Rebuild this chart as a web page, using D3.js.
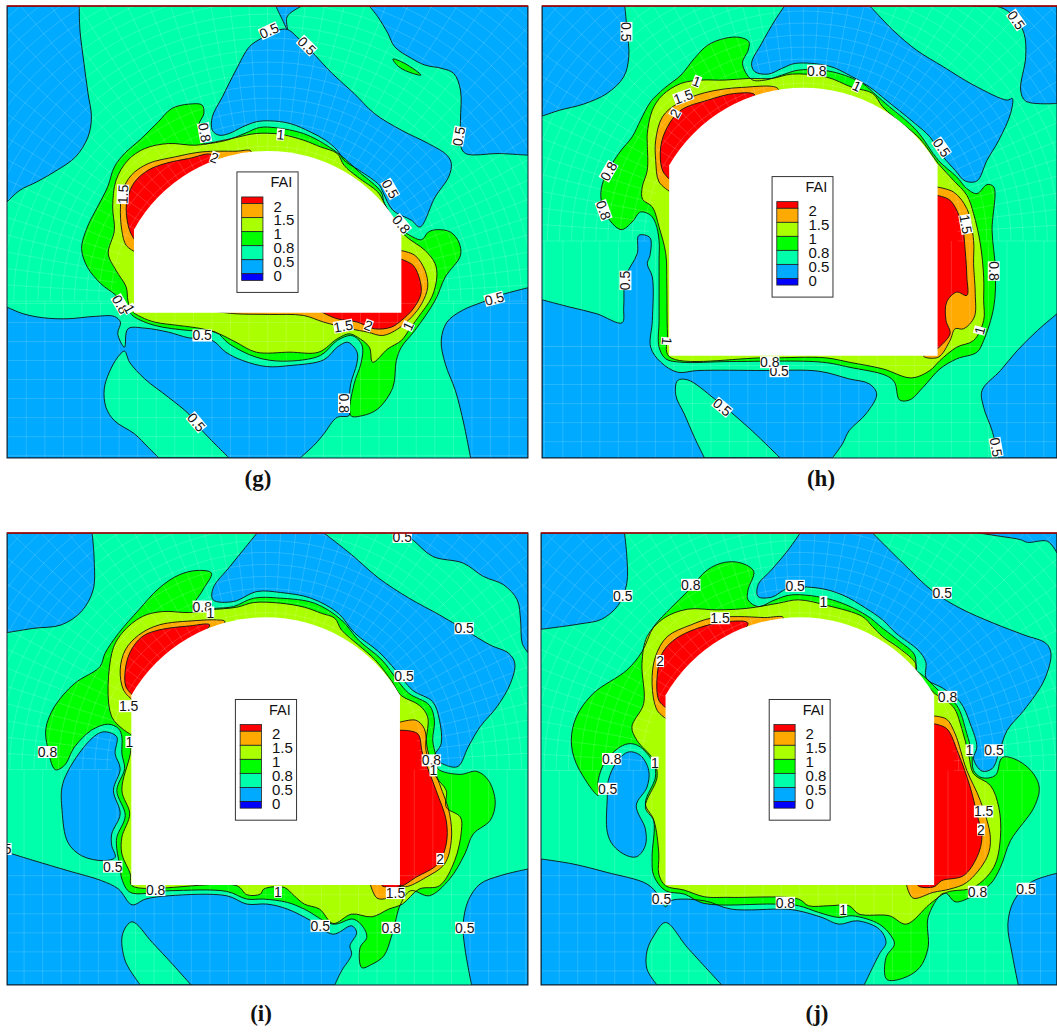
<!DOCTYPE html>
<html>
<head>
<meta charset="utf-8">
<script src="https://cdn.jsdelivr.net/npm/d3@7"></script>
<style>
body { margin: 0; background: #fff; }
text { font-family: "Liberation Sans", Arial, sans-serif; fill: #111; }
</style>
</head>
<body>
<svg id="chart" width="1057" height="1033"></svg>
<script>
// level colours, lowest to highest
const levelLabels = ["2", "1.5", "1", "0.8", "0.5", "0"];
const legendColors = ["#ff0000", "#ffaa00", "#aaff00", "#00ff00", "#00ffaa", "#00aaff", "#0000ff"];
const BLUE = "#00aaff", MINT = "#00ffaa", GREEN = "#00ff00", LIME = "#aaff00", ORANGE = "#ffaa00", RED = "#ff0000";

// contour outlines, in field units

// ---- (g)
const gBlueTL = [[22,18],[236,18],[238,90],[250,190],[262,280],[272,350],[262,410],[225,470],[170,510],[110,545],[60,570],[22,605]];
const gBlueTop = [[818,18],[895,18],[860,40],[850,55],[852,88],[838,60]];
const gBlueCentre = [[852,88],[880,110],[920,150],[985,220],[1050,280],[1110,340],[1190,390],[1270,430],[1325,465],[1338,490],[1330,530],[1290,590],[1245,680],[1220,660],[1165,630],[1135,575],[1125,555],[1065,510],[1020,480],[1000,450],[965,420],[920,395],[860,370],[800,362],[760,365],[720,380],[680,400],[650,405],[630,390],[630,350],[660,290],[700,210],[740,140],[775,115],[820,92]];
const gBlueTR = [[1095,18],[1565,18],[1565,465],[1480,460],[1380,460],[1365,435],[1365,360],[1365,270],[1345,220],[1310,205],[1260,195],[1220,175],[1170,140],[1150,100],[1120,50]];
const gBlueLow = [[22,920],[70,940],[130,952],[200,955],[280,948],[340,948],[358,965],[350,1000],[370,1040],[380,985],[430,983],[500,995],[560,1012],[630,1020],[670,1055],[720,1080],[790,1098],[860,1095],[960,1078],[1000,1040],[1030,1025],[1050,1040],[1060,1060],[1058,1090],[1040,1150],[1035,1210],[1035,1245],[1000,1250],[960,1300],[935,1330],[890,1372],[22,1372]];
const gIsland = [[370,1052],[385,1085],[430,1135],[500,1190],[560,1240],[600,1290],[680,1372],[472,1372],[440,1340],[400,1300],[340,1260],[315,1220],[310,1165],[325,1115],[350,1070]];
const gBlueBR = [[1565,862],[1480,885],[1430,905],[1370,930],[1325,965],[1308,1020],[1320,1090],[1350,1170],[1375,1270],[1395,1372],[1565,1372]];
const gSliver = [[1165,177],[1200,190],[1248,225],[1210,215],[1180,198]];
const gGreen = [[605,430],[590,375],[605,340],[600,315],[560,312],[510,325],[470,365],[420,415],[370,460],[340,500],[320,560],[290,620],[260,680],[243,745],[260,800],[300,850],[345,885],[380,925],[385,935],[400,950],[460,975],[560,990],[640,995],[680,1030],[760,1070],[840,1082],[950,1065],[1000,1020],[1040,1005],[1060,1015],[1075,1040],[1070,1090],[1050,1150],[1040,1245],[1075,1245],[1120,1225],[1165,1160],[1175,1080],[1190,1040],[1230,990],[1290,900],[1320,830],[1365,765],[1360,725],[1335,695],[1295,688],[1270,695],[1250,718],[1215,705],[1195,690],[1140,610],[1130,575],[1065,515],[1010,465],[960,430],[900,400],[820,383],[770,382],[730,398],[680,418],[620,430]];
const gLime = [[380,900],[375,860],[345,810],[322,760],[340,690],[335,620],[345,540],[380,480],[430,445],[500,430],[580,435],[640,425],[700,412],[760,400],[830,402],[900,420],[950,440],[1000,460],[1020,495],[1060,530],[1120,575],[1135,600],[1140,610],[1195,700],[1260,750],[1290,790],[1295,830],[1280,890],[1240,950],[1215,985],[1190,1020],[1150,1045],[1105,1085],[1095,1040],[1060,1010],[1035,1000],[1000,1015],[945,1055],[860,1055],[760,1055],[700,1025],[650,1000],[600,985],[530,975],[460,965],[420,950],[390,930]];
const gOrangeL = [[402,755],[375,735],[362,690],[358,620],[365,570],[390,525],[440,490],[520,470],[600,455],[700,453],[745,453],[500,700]];
const gRedL = [[402,722],[385,690],[375,630],[380,590],[400,545],[440,510],[490,490],[560,475],[630,465],[600,600]];
const gOrangeR = [[1186,750],[1230,765],[1260,810],[1268,860],[1250,910],[1220,950],[1180,985],[1135,1005],[1090,995],[1040,985],[960,965],[900,945],[800,942],[700,940],[640,933],[1186,930]];
const gRedR = [[1186,775],[1225,795],[1245,840],[1248,880],[1225,925],[1190,960],[1160,980],[1110,985],[1060,965],[1000,955],[950,933],[1186,930]];
const gTunnel = [398, 1190, 688, 452, 937];
const gLegend = [703, 515];
const gLabels = [["0.5",798,92,-25],["0.5",910,137,45],["0.5",1360,408,-80],["0.8",607,397,80],["1",832,403,5],["2",636,472,20],["1.5",365,582,-88],["0.5",1157,566,60],["0.8",1190,672,50],["0.5",1465,895,-15],["0.8",358,912,60],["1",385,925,60],["0.5",600,1005,0],["1.5",1018,977,-10],["2",1092,975,20],["1",1210,977,-65],["0.8",1020,1208,90],["0.5",583,1265,50]];

// ---- (h)
const hBlueTL = [[37,18],[283,18],[290,90],[295,170],[280,230],[230,280],[160,312],[90,330],[37,348]];
const hBlueCentre = [[758,18],[1012,18],[1080,90],[1150,150],[1230,200],[1320,255],[1420,300],[1435,295],[1430,340],[1395,420],[1360,480],[1330,542],[1295,542],[1265,510],[1230,470],[1190,410],[1140,365],[1060,300],[1010,260],[950,225],[890,198],[790,190],[750,205],[710,222],[670,215],[660,190],[690,130],[730,60]];
const hBlueTR = [[1320,18],[1400,22],[1440,50],[1470,100],[1475,170],[1460,270],[1475,303],[1568,310],[1568,18]];
const hBlueLow = [[37,898],[120,920],[200,940],[275,967],[280,920],[285,830],[320,760],[325,705],[358,712],[358,765],[350,790],[365,830],[365,960],[360,1040],[390,1085],[440,1115],[500,1110],[700,1110],[860,1112],[950,1135],[1010,1150],[1032,1180],[1000,1240],[950,1290],[930,1330],[900,1372],[37,1372]];
const hIsland = [[440,1140],[470,1138],[550,1195],[650,1280],[745,1372],[520,1372],[490,1310],[460,1240],[435,1185]];
const hBlueBR = [[1568,940],[1510,990],[1450,1050],[1400,1110],[1345,1170],[1350,1220],[1375,1290],[1395,1372],[1568,1372]];
const hGreen = [[660,238],[633,190],[650,150],[652,125],[625,112],[580,115],[530,135],[490,175],[450,225],[400,265],[360,305],[330,360],[305,410],[265,460],[220,540],[212,590],[225,640],[272,688],[305,665],[330,635],[360,645],[375,670],[385,720],[385,780],[385,850],[385,960],[385,1040],[405,1075],[450,1085],[600,1083],[870,1085],[950,1100],[1060,1125],[1085,1145],[1100,1198],[1130,1198],[1170,1160],[1220,1105],[1270,1075],[1330,1055],[1350,1020],[1380,920],[1385,810],[1375,690],[1380,560],[1360,553],[1330,580],[1300,565],[1270,530],[1215,480],[1150,390],[1070,320],[1030,285],[990,250],[900,215],[800,210],[750,225],[700,240]];
const hLime = [[336,597],[335,560],[350,510],[350,430],[350,400],[365,330],[395,285],[450,250],[510,240],[580,240],[650,235],[720,235],[780,222],[880,230],[960,262],[1020,280],[1050,320],[1100,365],[1160,415],[1215,490],[1260,540],[1300,585],[1320,640],[1340,730],[1350,830],[1350,900],[1350,960],[1320,1020],[1270,1040],[1220,1080],[1190,1110],[1135,1132],[1050,1105],[950,1085],[880,1072],[700,1072],[415,1068],[410,1000],[408,850],[405,760],[385,680],[365,620]];
const hOrangeL = [[419,575],[385,545],[375,480],[375,420],[395,350],[440,310],[520,278],[630,262],[740,268],[500,500]];
const hRedL = [[419,540],[395,510],[390,440],[410,380],[450,330],[530,300],[610,280],[670,285],[500,450]];
const hOrangeR = [[1209,560],[1260,575],[1300,625],[1320,720],[1320,790],[1325,880],[1322,950],[1290,985],[1265,985],[1250,1020],[1215,1070],[1172,1068],[1172,1060]];
const hRedR = [[1209,585],[1250,600],[1285,670],[1295,750],[1300,830],[1300,885],[1270,875],[1240,905],[1238,960],[1250,1000],[1209,1048]];
const hTunnel = [415, 1213, 495, 263, 1066];
const hLegend = [721, 529];
const hLabels = [["0.5",288,95,90],["0.5",1447,60,55],["0.8",854,212,0],["1",497,244,20],["1",973,258,25],["1.5",457,290,-20],["2",433,340,-60],["0.5",1225,442,55],["0.8",235,513,-60],["0.8",220,630,70],["1.5",1297,672,80],["0.8",1380,812,90],["0.5",285,840,-90],["1",408,1022,95],["1",1338,990,-75],["0.5",742,1112,0],["0.8",714,1085,0],["0.5",573,1220,40],["0.5",1387,1340,80]];

// ---- (i)
const iBlueTL = [[20,40],[272,40],[278,120],[275,210],[240,275],[180,315],[100,325],[20,338]];
const iBlueCentre = [[760,40],[958,40],[1040,105],[1120,175],[1210,235],[1300,285],[1375,330],[1450,375],[1505,400],[1523,430],[1510,490],[1470,560],[1420,620],[1385,680],[1355,738],[1320,735],[1285,710],[1305,670],[1300,600],[1280,545],[1220,510],[1170,450],[1120,395],[1050,340],[1000,280],[920,235],[830,218],[760,215],[690,245],[630,240],[630,205],[680,140],[720,90]];
const iBlueTR = [[1190,40],[1220,60],[1280,110],[1370,130],[1430,170],[1490,195],[1530,240],[1540,300],[1545,370],[1562,398],[1562,40]];
const iBlueLeft = [[315,635],[345,650],[340,700],[355,745],[335,810],[355,880],[330,940],[330,975],[340,1010],[305,1020],[240,1005],[200,965],[183,870],[185,790],[240,690],[290,640]];
const iBlueLow = [[20,995],[100,1020],[200,1050],[300,1080],[350,1105],[390,1152],[430,1135],[500,1125],[670,1125],[730,1150],[790,1150],[850,1165],[920,1200],[985,1240],[1040,1215],[1055,1235],[1035,1275],[1040,1300],[1010,1350],[990,1392],[20,1392]];
const iIsland = [[390,1203],[450,1265],[510,1330],[565,1392],[415,1392],[370,1320],[362,1240]];
const iBlueBR = [[1562,1045],[1480,1065],[1420,1090],[1385,1140],[1370,1210],[1375,1280],[1395,1392],[1562,1392]];
const iGreen = [[570,265],[600,210],[625,160],[585,152],[530,165],[470,205],[410,270],[350,340],[310,400],[295,440],[220,490],[160,560],[135,625],[140,680],[163,748],[190,735],[220,680],[270,630],[320,612],[350,625],[360,650],[360,700],[368,745],[345,810],[370,885],[345,950],[345,985],[355,1040],[360,1075],[385,1115],[500,1110],[670,1112],[730,1135],[780,1135],[850,1145],[900,1165],[985,1210],[1045,1195],[1075,1220],[1085,1250],[1065,1280],[1070,1340],[1100,1330],[1135,1305],[1160,1240],[1185,1150],[1215,1110],[1270,1125],[1330,1075],[1375,1000],[1400,940],[1450,900],[1465,845],[1445,780],[1410,753],[1360,762],[1295,745],[1290,710],[1280,660],[1285,600],[1270,555],[1210,520],[1175,480],[1130,420],[1060,360],[1010,300],[930,250],[830,235],[750,235],[690,260],[640,265]];
const iLime = [[330,590],[330,400],[360,340],[420,290],[480,275],[560,278],[620,270],[700,262],[750,248],[830,250],[900,262],[950,280],[990,295],[1010,330],[1060,375],[1110,420],[1160,485],[1185,525],[1240,555],[1265,590],[1260,690],[1290,770],[1320,810],[1320,860],[1362,890],[1365,930],[1345,1020],[1300,1095],[1240,1105],[1190,1150],[1150,1165],[1100,1188],[1040,1180],[985,1208],[945,1165],[900,1150],[870,1125],[840,1100],[780,1105],[770,1120],[730,1122],[700,1095],[390,1095],[385,1060],[360,1000],[360,950],[383,880],[360,810],[385,700],[390,645]];
const iOrangeL = [[392,540],[365,510],[355,450],[370,390],[410,345],[470,315],[580,302],[640,300],[665,305],[500,450]];
const iRedL = [[392,525],[372,500],[370,450],[385,395],[420,350],[470,330],[560,318],[620,315],[500,420]];
const iOrangeR = [[1179,607],[1230,600],[1255,625],[1265,690],[1300,790],[1330,880],[1335,960],[1315,1030],[1260,1070],[1200,1098],[1179,1090]];
const iOrangeB = [[1095,1090],[1115,1132],[1145,1132],[1183,1098],[1179,1088]];
const iRedR = [[1179,630],[1235,640],[1250,700],[1290,810],[1320,900],[1320,970],[1295,1030],[1230,1070],[1183,1098],[1130,1095],[1130,1088],[1179,1088]];
const iTunnel = [388, 1183, 525, 292, 1093];
const iLegend = [696, 538];
const iLabels = [["0.5",1190,52,0],["0.8",598,260,0],["1",622,278,0],["0.5",1373,325,0],["0.5",1195,468,0],["1.5",380,558,0],["1",382,665,0],["0.8",140,695,0],["0.8",1276,720,0],["1",1282,750,0],["0.5",5,985,0],["2",1302,1015,0],["0.5",333,1038,0],["0.8",460,1108,0],["1",822,1113,0],["1.5",1170,1117,0],["0.5",947,1215,0],["0.8",1157,1221,0],["0.5",1375,1221,0]];

// ---- (j)
const jBlueTL = [[35,40],[283,40],[290,110],[290,190],[265,255],[215,298],[150,312],[35,328]];
const jBlueCentre = [[805,40],[1020,40],[1110,130],[1200,215],[1280,265],[1380,310],[1470,345],[1535,370],[1550,400],[1530,480],[1470,570],[1420,630],[1395,700],[1375,745],[1345,752],[1320,715],[1330,680],[1310,610],[1280,545],[1230,505],[1180,475],[1178,425],[1155,390],[1090,340],[1050,300],[1000,265],[930,225],[860,205],[770,205],[720,232],[680,230],[680,195],[720,150],[770,90]];
const jBlueTR = [[1335,40],[1400,50],[1460,60],[1480,68],[1540,65],[1568,100],[1568,40]];
const jBlueLeft = [[295,695],[330,705],[355,750],[350,800],[318,855],[345,925],[345,975],[320,1008],[290,1005],[250,975],[232,935],[232,830],[235,780],[260,725]];
const jBlueLow = [[35,1015],[130,1030],[230,1055],[350,1090],[385,1125],[405,1158],[420,1140],[520,1140],[600,1165],[760,1165],[800,1170],[870,1190],[920,1210],[975,1200],[1040,1225],[1060,1265],[1040,1300],[995,1392],[35,1392]];
const jIsland = [[405,1205],[470,1280],[572,1392],[380,1392],[350,1345],[350,1290],[370,1245]];
const jBlueBR = [[1568,1058],[1490,1085],[1440,1140],[1422,1210],[1435,1300],[1453,1392],[1568,1392]];
const jGreen = [[680,260],[650,240],[650,210],[667,155],[630,130],[580,128],[530,150],[470,215],[420,265],[370,320],[335,395],[290,450],[190,520],[140,590],[125,660],[140,730],[205,825],[205,780],[225,725],[270,680],[300,670],[330,680],[370,730],[375,770],[345,850],[370,900],[365,1010],[370,1065],[405,1110],[460,1120],[520,1148],[730,1150],[800,1155],[860,1175],[920,1190],[960,1185],[1040,1210],[1075,1245],[1085,1270],[1060,1310],[1062,1375],[1110,1372],[1160,1340],[1185,1280],[1185,1190],[1225,1120],[1240,1118],[1265,1143],[1310,1130],[1370,1090],[1400,1040],[1430,960],[1500,860],[1515,800],[1490,750],[1440,715],[1405,712],[1385,765],[1345,772],[1320,750],[1315,700],[1300,640],[1270,555],[1215,510],[1180,475],[1148,450],[1145,405],[1095,360],[1050,325],[1000,285],[900,240],[780,225],[730,240]];
const jLime = [[305,620],[340,550],[335,430],[350,350],[400,295],[470,268],[560,270],[650,265],[740,250],[800,240],[890,258],[990,290],[1020,320],[1050,350],[1100,385],[1148,430],[1150,460],[1205,520],[1260,560],[1285,625],[1305,700],[1320,760],[1370,795],[1395,860],[1400,950],[1380,1040],[1320,1100],[1240,1115],[1190,1150],[1120,1210],[1070,1185],[980,1180],[950,1155],[890,1155],[830,1155],[800,1135],[600,1130],[520,1128],[460,1108],[405,1095],[385,1060],[385,1000],[370,900],[345,860],[380,770],[370,720],[320,660]];
const jOrangeL = [[409,597],[380,570],[365,490],[375,410],[410,350],[480,315],[540,295],[620,290],[700,293],[755,293],[500,500]];
const jRedL = [[409,565],[385,540],[380,470],[395,400],[430,360],[500,325],[590,305],[650,310],[500,450]];
const jOrangeR = [[1199,587],[1240,597],[1265,640],[1300,750],[1340,840],[1370,950],[1360,1010],[1300,1085],[1250,1105],[1200,1115],[1140,1132],[1120,1089],[1199,1089]];
const jRedR = [[1199,610],[1240,625],[1275,700],[1310,800],[1330,880],[1345,950],[1330,1010],[1290,1065],[1225,1080],[1203,1098],[1160,1098],[1150,1089],[1199,1089]];
const jTunnel = [405, 1203, 525, 292, 1093];
const jLegend = [713, 538];
const jLabels = [["0.5",278,228,0],["0.8",480,195,0],["0.5",790,198,0],["1",874,246,0],["0.5",1227,219,0],["1.5",567,295,0],["2",389,423,0],["0.8",1243,530,0],["1",1308,690,0],["0.5",1381,690,0],["0.8",245,716,0],["1",373,727,0],["0.5",233,805,0],["1.5",1350,873,0],["2",1342,927,0],["0.5",1476,1104,0],["0.8",1332,1113,0],["0.5",393,1134,0],["0.8",761,1146,0],["1",933,1167,0]];

const panels = [
  {tag: "(g)", dx: [22, 1565], dy: [18, 1372], rx: [7, 528], ry: [6, 458], capX: 258, capY: 486, tunnel: gTunnel, legend: gLegend, labels: gLabels,
   layers: [[BLUE,gBlueTL],[BLUE,gBlueTop],[BLUE,gBlueCentre],[BLUE,gBlueTR],[BLUE,gBlueLow],[MINT,gIsland],[BLUE,gBlueBR],[GREEN,gSliver],[GREEN,gGreen],[LIME,gLime],[ORANGE,gOrangeL],[RED,gRedL],[ORANGE,gOrangeR],[RED,gRedR]]},
  {tag: "(h)", dx: [37, 1568], dy: [18, 1372], rx: [542, 1057], ry: [6, 458], capX: 821, capY: 486, tunnel: hTunnel, legend: hLegend, labels: hLabels,
   layers: [[BLUE,hBlueTL],[BLUE,hBlueCentre],[BLUE,hBlueTR],[BLUE,hBlueLow],[MINT,hIsland],[BLUE,hBlueBR],[GREEN,hGreen],[LIME,hLime],[ORANGE,hOrangeL],[RED,hRedL],[ORANGE,hOrangeR],[RED,hRedR]]},
  {tag: "(i)", dx: [20, 1562], dy: [40, 1392], rx: [7, 528], ry: [533, 985], capX: 261, capY: 1021, tunnel: iTunnel, legend: iLegend, labels: iLabels,
   layers: [[BLUE,iBlueTL],[BLUE,iBlueCentre],[BLUE,iBlueTR],[BLUE,iBlueLeft],[BLUE,iBlueLow],[MINT,iIsland],[BLUE,iBlueBR],[GREEN,iGreen],[LIME,iLime],[ORANGE,iOrangeL],[RED,iRedL],[ORANGE,iOrangeR],[ORANGE,iOrangeB],[RED,iRedR]]},
  {tag: "(j)", dx: [35, 1568], dy: [40, 1392], rx: [541, 1057], ry: [533, 985], capX: 817, capY: 1021, tunnel: jTunnel, legend: jLegend, labels: jLabels,
   layers: [[BLUE,jBlueTL],[BLUE,jBlueCentre],[BLUE,jBlueTR],[BLUE,jBlueLeft],[BLUE,jBlueLow],[MINT,jIsland],[BLUE,jBlueBR],[GREEN,jGreen],[LIME,jLime],[ORANGE,jOrangeL],[RED,jRedL],[ORANGE,jOrangeR],[RED,jRedR]]}
];

// the mesh is the same in all four panels, placed relative to the opening
const meshRings = d3.range(14, 760, 36);
const meshAngles = d3.range(180, 361, 3.6);
const meshRows = [-28,29,86,143,200,257,314,371,428];
const meshCols = d3.range(-825, 826, 55);

const svg = d3.select("#chart");

panels.forEach((p, n) => {
  const x = d3.scaleLinear().domain(p.dx).range(p.rx);
  const y = d3.scaleLinear().domain(p.dy).range(p.ry);
  const straight = d3.line().x(d => x(d[0])).y(d => y(d[1]));
  const smooth = d3.line().x(d => x(d[0])).y(d => y(d[1])).curve(d3.curveCatmullRom.alpha(0.5));
  const smoothClosed = d3.line().x(d => x(d[0])).y(d => y(d[1])).curve(d3.curveCatmullRomClosed.alpha(0.5));

  const [x0, x1, ySpring, yTop, yBot] = p.tunnel;
  const half = (x1 - x0) / 2, sag = ySpring - yTop;
  const R = (half * half + sag * sag) / (2 * sag);
  const cx = (x0 + x1) / 2, cy = yTop + R;

  // frame points and points hidden by the opening are joined straight, the rest smoothly
  const hard = d => {
    if (d[0] <= p.dx[0] || d[0] >= p.dx[1] || d[1] <= p.dy[0] || d[1] >= p.dy[1]) return true;
    if (d[0] <= x0 || d[0] >= x1 || d[1] >= yBot) return false;
    return d[1] >= ySpring || Math.hypot(d[0] - cx, d[1] - cy) < R;
  };
  function contourPath(pts) {
    const first = pts.findIndex(hard);
    if (first < 0) return smoothClosed(pts);
    const ring = [...pts.slice(first), ...pts.slice(0, first), pts[first]];
    let d = "", run = [ring[0]];
    for (const pt of ring.slice(1)) {
      run.push(pt);
      if (hard(pt)) {
        const part = run.length === 2 ? straight(run) : smooth(run);
        d += d === "" ? part : "L" + part.slice(1);
        run = [pt];
      }
    }
    return d + "Z";
  }

  const clipId = "clip" + n;
  svg.append("clipPath").attr("id", clipId).append("rect")
    .attr("x", p.rx[0]).attr("y", p.ry[0])
    .attr("width", p.rx[1] - p.rx[0]).attr("height", p.ry[1] - p.ry[0]);

  const g = svg.append("g").attr("clip-path", `url(#${clipId})`);

  g.append("rect")
    .attr("x", p.rx[0]).attr("y", p.ry[0])
    .attr("width", p.rx[1] - p.rx[0]).attr("height", p.ry[1] - p.ry[0])
    .attr("fill", MINT);

  g.selectAll("path.level").data(p.layers).join("path")
    .attr("class", "level")
    .attr("d", d => contourPath(d[1]))
    .attr("fill", d => d[0]);

  // mesh
  const mesh = g.append("g").attr("fill", "none").attr("stroke", "#fff")
    .attr("stroke-width", 0.6).attr("stroke-opacity", 0.26);
  const polar = (r, a) => [cx + r * Math.cos(a * Math.PI / 180), cy + r * Math.sin(a * Math.PI / 180)];
  meshRings.forEach(r => mesh.append("path").attr("d", straight(meshAngles.map(a => polar(R + r, a)))));
  meshAngles.forEach(a => mesh.append("path").attr("d", straight([polar(R, a), polar(R + 760, a)])));
  meshRows.forEach(r => mesh.append("path").attr("d", straight([[p.dx[0], yBot + r], [p.dx[1], yBot + r]])));
  meshCols.forEach(c => mesh.append("path").attr("d", straight([[cx + c, cy], [cx + c, p.dy[1]]])));

  // contour lines go over the mesh
  g.selectAll("path.contour").data(p.layers).join("path")
    .attr("class", "contour")
    .attr("d", d => contourPath(d[1]))
    .attr("fill", "none")
    .attr("stroke", "#111")
    .attr("stroke-width", 0.9)
    .attr("stroke-linejoin", "round");

  // opening
  const rPx = (x(x1) - x(x0)) / 2;
  const sagPx = y(ySpring) - y(yTop);
  const rArc = (rPx * rPx + sagPx * sagPx) / (2 * sagPx);
  g.append("path")
    .attr("d", `M${x(x0)},${y(yBot)}L${x(x0)},${y(ySpring)}A${rArc},${rArc} 0 0 1 ${x(x1)},${y(ySpring)}L${x(x1)},${y(yBot)}Z`)
    .attr("fill", "#fff");

  // contour labels
  p.labels.forEach(l => {
    const lab = g.append("g").attr("transform", `translate(${x(l[1])},${y(l[2])}) rotate(${l[3]})`);
    const box = lab.append("rect").attr("fill", "#fff");
    const t = lab.append("text").attr("text-anchor", "middle").attr("y", 5)
      .attr("font-size", 14).text(l[0]);
    const w = t.node().getComputedTextLength();
    box.attr("x", -w / 2).attr("y", -6).attr("width", w).attr("height", 12);
  });

  // frame
  svg.append("rect")
    .attr("x", p.rx[0]).attr("y", p.ry[0])
    .attr("width", p.rx[1] - p.rx[0]).attr("height", p.ry[1] - p.ry[0])
    .attr("fill", "none").attr("stroke", "#123").attr("stroke-width", 1);
  svg.append("line")
    .attr("x1", p.rx[0]).attr("x2", p.rx[1]).attr("y1", p.ry[0]).attr("y2", p.ry[0])
    .attr("stroke", "#b00000").attr("stroke-width", 1.4);

  // legend
  const [lx, ly] = p.legend;
  const leg = svg.append("g");
  leg.append("rect")
    .attr("x", x(lx)).attr("y", y(ly))
    .attr("width", x(lx + 181) - x(lx)).attr("height", y(ly + 361) - y(ly))
    .attr("fill", "#fff").attr("stroke", "#333").attr("stroke-width", 1);
  leg.append("text")
    .attr("x", x(lx + 164)).attr("y", y(ly + 45))
    .attr("text-anchor", "end").attr("font-size", 14.5).text("FAI");
  const stops = [75, 95, 137, 179, 221, 263, 305, 325];
  leg.selectAll("rect.sw").data(legendColors).join("rect")
    .attr("class", "sw")
    .attr("x", x(lx + 14)).attr("width", x(lx + 77) - x(lx + 14))
    .attr("y", (d, i) => y(ly + stops[i]))
    .attr("height", (d, i) => y(ly + stops[i + 1]) - y(ly + stops[i]))
    .attr("fill", d => d)
    .attr("stroke", "#222").attr("stroke-width", 0.8);
  leg.selectAll("text.lv").data(levelLabels).join("text")
    .attr("class", "lv")
    .attr("x", x(lx + 108))
    .attr("y", (d, i) => y(ly + 119 + i * 41.5))
    .attr("font-size", 15).text(d => d);

  // caption
  svg.append("text")
    .attr("x", p.capX).attr("y", p.capY)
    .attr("text-anchor", "middle")
    .style("font-family", '"Liberation Serif", "Times New Roman", serif')
    .style("font-weight", "bold").style("font-size", "23px")
    .text(p.tag);
});
</script>
</body>
</html>
